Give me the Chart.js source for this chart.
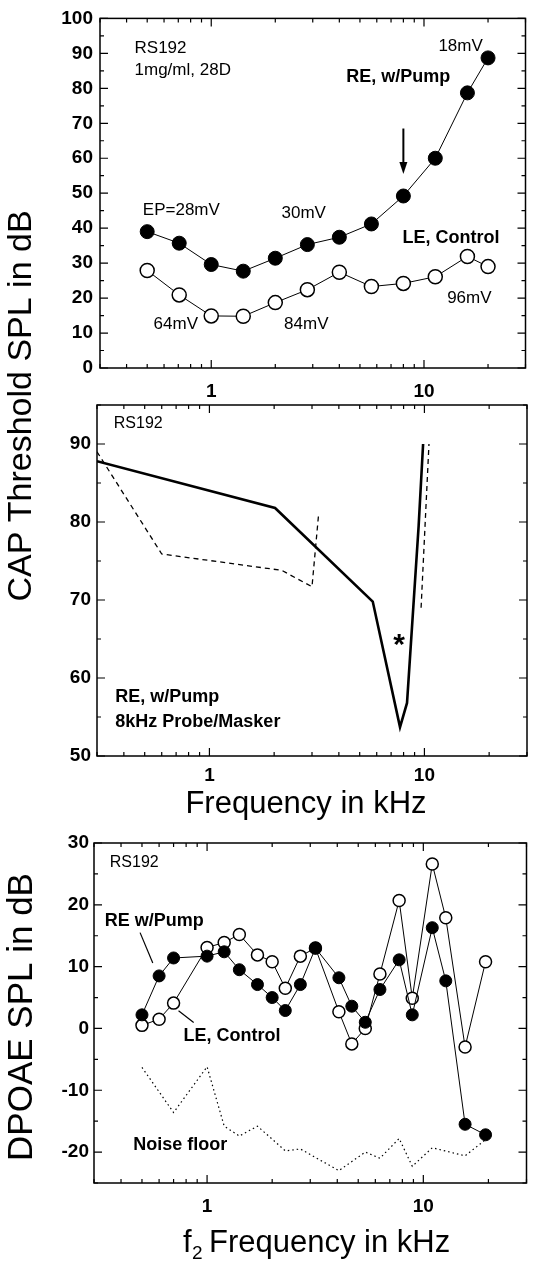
<!DOCTYPE html>
<html>
<head>
<meta charset="utf-8">
<script src="https://cdn.jsdelivr.net/npm/chart.js@4.4.1/dist/chart.umd.min.js"></script>
<style>
  html, body { margin: 0; padding: 0; background: #fff; }
  #wrap { position: relative; width: 534px; height: 1261px; }
  #wrap canvas { position: absolute; left: 0; top: 0; }
</style>
</head>
<body>
<div id="wrap">
  <canvas id="capChart" width="534" height="1261"></canvas>
  <canvas id="tuningChart" width="534" height="1261"></canvas>
  <canvas id="dpoaeChart" width="534" height="1261"></canvas>
</div>
<script>
// top panel: CAP thresholds (dB SPL) per probe frequency (kHz)
const capFreq = [0.5, 0.707, 1, 1.414, 2, 2.83, 4, 5.66, 8, 11.3, 16, 20];
const capPump = [39, 35.7, 29.6, 27.7, 31.4, 35.3, 37.4, 41.2, 49.2, 60, 78.7, 88.7];
const capControl = [27.9, 20.9, 14.9, 14.8, 18.7, 22.4, 27.4, 23.3, 24.2, 26.1, 31.9, 29];

// middle panel: masking tuning curves, 8 kHz probe
const tuneFreq = [0.3, 2.02, 5.75, 7.7, 8.3, 9.4, 9.86];
const tuneLevel = [87.8, 81.8, 69.8, 53.7, 56.8, 79.5, 90];
const dashLowFreq = [0.3, 0.6, 2.17, 3.0, 3.22];
const dashLowLevel = [89, 75.9, 73.8, 71.7, 81];
const dashHighFreq = [9.65, 10.5];
const dashHighLevel = [69, 90];

// bottom panel: DPOAE levels
const dpFreq = [0.5, 0.6, 0.7, 1.0, 1.2, 1.41, 1.71, 2.0, 2.3, 2.7, 3.17, 4.07, 4.67, 5.39, 6.3, 7.73, 8.89, 11.0, 12.7, 15.6, 19.4];
const dpPump = [2.2, 8.5, 11.4, 11.7, 12.4, 9.5, 7.1, 5.0, 2.9, 7.1, 13.0, 8.2, 3.6, 1.0, 6.3, 11.1, 2.2, 16.3, 7.7, -15.5, -17.2];
const dpControl = [0.5, 1.5, 4.1, 13.1, 13.9, 15.2, 11.9, 10.8, 6.5, 11.7, 13.0, 2.7, -2.5, 0.0, 8.8, 20.7, 4.9, 26.6, 17.9, -3.0, 10.8];
const noiseFreq = [0.5, 0.7, 1.0, 1.2, 1.41, 1.71, 2.3, 2.7, 4.07, 5.39, 6.3, 7.73, 8.89, 11.0, 15.6, 19.4];
const noiseLevel = [-6.3, -13.6, -6.2, -15.8, -17.4, -15.8, -19.8, -19.5, -23, -20, -21, -17.8, -22.3, -19.3, -20.6, -18];

const xLabels = [1, 10];

Chart.defaults.font.family = '"Liberation Sans", Arial, sans-serif';
Chart.defaults.color = '#000';
Chart.defaults.animation = false;

function pts(xs, ys) {
    return xs.map((v, i) => ({ x: v, y: ys[i] }));
}

// minor/major tick values of the log frequency axis
const xTickVals = [];
[0.1, 1, 10].forEach(d => {
    for (let m = 1; m <= 9; m++) {
        const v = +(m * d).toFixed(2);
        if (v >= 0.3 && v <= 30) xTickVals.push(v);
    }
});

function range(a, b, step) {
    const out = [];
    for (let v = a; v <= b + 1e-9; v += step) out.push(v);
    return out;
}

// frame with inward ticks on all four sides
function framePlugin(yMajor, yMinor) {
    return {
        id: 'frame',
        afterDraw(chart) {
            const { ctx, chartArea: a, scales: { x, y } } = chart;
            ctx.save();
            ctx.strokeStyle = '#000';
            ctx.lineWidth = 1.5;
            ctx.strokeRect(a.left, a.top, a.right - a.left, a.bottom - a.top);
            ctx.lineWidth = 1.2;
            ctx.beginPath();
            xTickVals.forEach(v => {
                const px = x.getPixelForValue(v);
                const len = xLabels.includes(v) ? 8 : 4;
                ctx.moveTo(px, a.bottom); ctx.lineTo(px, a.bottom - len);
                ctx.moveTo(px, a.top); ctx.lineTo(px, a.top + len);
            });
            yMinor.forEach(v => {
                const py = y.getPixelForValue(v);
                const len = yMajor.includes(v) ? 8 : 4;
                ctx.moveTo(a.left, py); ctx.lineTo(a.left + len, py);
                ctx.moveTo(a.right, py); ctx.lineTo(a.right - len, py);
            });
            ctx.stroke();
            ctx.restore();
        }
    };
}

// text, pointer lines and titles
function notesPlugin(items) {
    return {
        id: 'notes',
        afterDraw(chart) {
            const { ctx, scales: { x, y } } = chart;
            ctx.save();
            ctx.fillStyle = '#000';
            ctx.strokeStyle = '#000';
            items.forEach(n => {
                if (n.line) {
                    ctx.lineWidth = n.width || 1.2;
                    ctx.beginPath();
                    ctx.moveTo(x.getPixelForValue(n.line[0]), y.getPixelForValue(n.line[1]));
                    ctx.lineTo(x.getPixelForValue(n.line[2]), y.getPixelForValue(n.line[3]));
                    ctx.stroke();
                    return;
                }
                if (n.arrow) {
                    const px = x.getPixelForValue(n.arrow[0]);
                    const y1 = y.getPixelForValue(n.arrow[1]);
                    const y2 = y.getPixelForValue(n.arrow[2]);
                    ctx.lineWidth = 2;
                    ctx.beginPath();
                    ctx.moveTo(px, y1); ctx.lineTo(px, y2 - 8);
                    ctx.stroke();
                    ctx.beginPath();
                    ctx.moveTo(px - 4, y2 - 12); ctx.lineTo(px + 4, y2 - 12); ctx.lineTo(px, y2);
                    ctx.closePath();
                    ctx.fill();
                    return;
                }
                ctx.font = n.font;
                ctx.textAlign = n.align || 'left';
                ctx.textBaseline = 'middle';
                const px = n.px !== undefined ? n.px : x.getPixelForValue(n.x);
                const py = n.py !== undefined ? n.py : y.getPixelForValue(n.y);
                if (n.rotate) {
                    ctx.save();
                    ctx.translate(px, py);
                    ctx.rotate(-Math.PI / 2);
                    ctx.fillText(n.text, 0, 0);
                    ctx.restore();
                } else {
                    ctx.fillText(n.text, px, py);
                }
            });
            ctx.restore();
        }
    };
}

const noteBig = '17px "Liberation Sans", Arial, sans-serif';
const note = '16px "Liberation Sans", Arial, sans-serif';
const noteBold = 'bold 18px "Liberation Sans", Arial, sans-serif';
const title = '31px "Liberation Sans", Arial, sans-serif';
const AXIS_H = 40;

// axis boxes are sized so the plot area lands where the layout padding puts it
function scalesFor(left, yMin, yMax, yLabelVals, xPad, yPad) {
    return {
        x: {
            type: 'logarithmic', min: 0.3, max: 30,
            grid: { display: false, drawTicks: false }, border: { display: false },
            ticks: { font: { size: 19, weight: 'bold' }, padding: xPad, maxRotation: 0, autoSkip: false, callback: v => String(v) },
            afterBuildTicks: s => { s.ticks = xLabels.map(v => ({ value: v })); },
            afterFit: s => { s.height = AXIS_H; }
        },
        y: {
            min: yMin, max: yMax,
            grid: { display: false, drawTicks: false }, border: { display: false },
            ticks: { font: { size: 19, weight: 'bold' }, padding: yPad, autoSkip: false },
            afterBuildTicks: s => { s.ticks = yLabelVals.map(v => ({ value: v })); },
            afterFit: s => { s.width = left; }
        }
    };
}

function box(r, t, b) {
    return { padding: { left: 0, right: 534 - r, top: t, bottom: 1261 - b - AXIS_H } };
}

const filled = { borderColor: '#000', borderWidth: 1, pointRadius: 7, pointBorderWidth: 1, pointBackgroundColor: '#000', pointBorderColor: '#000', tension: 0, order: 0 };
const hollow = { borderColor: '#000', borderWidth: 1, pointRadius: 7, pointBorderWidth: 1.5, pointBackgroundColor: '#fff', pointBorderColor: '#000', tension: 0, order: 1 };

// --- top panel
new Chart(document.getElementById('capChart'), {
    type: 'line',
    data: {
        datasets: [
            Object.assign({ label: 'RE, w/Pump', data: pts(capFreq, capPump) }, filled),
            Object.assign({ label: 'LE, Control', data: pts(capFreq, capControl) }, hollow)
        ]
    },
    options: {
        responsive: false,
        devicePixelRatio: 1,
        layout: box(529, 18, 368),
        scales: scalesFor(100, 0, 100, range(0, 100, 10), 12, 7),
        plugins: { legend: { display: false }, tooltip: { enabled: false } }
    },
    plugins: [framePlugin(range(0, 100, 10), range(0, 100, 5)), notesPlugin([
        { text: 'RS192', x: 0.436, y: 91.4, font: noteBig },
        { text: '1mg/ml, 28D', x: 0.436, y: 85.2, font: noteBig },
        { text: 'RE, w/Pump', x: 4.31, y: 83.3, font: noteBold },
        { text: '18mV', x: 18.9, y: 91.9, font: noteBig, align: 'right' },
        { text: 'EP=28mV', x: 0.477, y: 45.2, font: noteBig },
        { text: '30mV', x: 2.14, y: 44.3, font: noteBig },
        { text: 'LE, Control', x: 7.92, y: 37.1, font: noteBold },
        { text: '64mV', x: 0.536, y: 12.4, font: noteBig },
        { text: '84mV', x: 2.2, y: 12.4, font: noteBig },
        { text: '96mV', x: 12.85, y: 20, font: noteBig },
        { arrow: [8, 68.5, 55.5] }
    ])]
});

// --- middle panel
new Chart(document.getElementById('tuningChart'), {
    type: 'line',
    data: {
        datasets: [
            { label: 'tuning', data: pts(tuneFreq, tuneLevel), borderColor: '#000', borderWidth: 2.6, pointRadius: 0, tension: 0 },
            { label: 'dashed low', data: pts(dashLowFreq, dashLowLevel), borderColor: '#000', borderWidth: 1.3, borderDash: [5, 4], pointRadius: 0, tension: 0 },
            { label: 'dashed high', data: pts(dashHighFreq, dashHighLevel), borderColor: '#000', borderWidth: 1.3, borderDash: [5, 4], pointRadius: 0, tension: 0 }
        ]
    },
    options: {
        responsive: false,
        devicePixelRatio: 1,
        layout: box(527, 405, 756),
        scales: scalesFor(97, 50, 95, range(50, 90, 10), 8, 6),
        plugins: { legend: { display: false }, tooltip: { enabled: false } }
    },
    plugins: [framePlugin(range(50, 90, 10), range(50, 95, 5)), notesPlugin([
        { text: 'RS192', x: 0.359, y: 92.6, font: note },
        { text: 'RE, w/Pump', x: 0.365, y: 57.6, font: noteBold },
        { text: '8kHz Probe/Masker', x: 0.365, y: 54.4, font: noteBold },
        { text: '*', x: 7.63, y: 64.2, font: 'bold 30px "Liberation Sans", Arial, sans-serif', align: 'center' },
        { text: 'CAP Threshold SPL in dB', px: 22, py: 406, font: '34px "Liberation Sans", Arial, sans-serif', align: 'center', rotate: true },
        { text: 'Frequency in kHz', px: 306, py: 804, font: title, align: 'center' }
    ])]
});

// --- bottom panel
new Chart(document.getElementById('dpoaeChart'), {
    type: 'line',
    data: {
        datasets: [
            Object.assign({ label: 'RE w/Pump', data: pts(dpFreq, dpPump) }, filled, { pointRadius: 6 }),
            Object.assign({ label: 'LE, Control', data: pts(dpFreq, dpControl) }, hollow, { pointRadius: 6 }),
            { label: 'Noise floor', data: pts(noiseFreq, noiseLevel), borderColor: '#000', borderWidth: 1.2, borderDash: [1.5, 3], pointRadius: 0, tension: 0, order: 2 }
        ]
    },
    options: {
        responsive: false,
        devicePixelRatio: 1,
        layout: box(528, 843, 1183),
        scales: scalesFor(94, -25, 30, range(-20, 30, 10), 12, 5),
        plugins: { legend: { display: false }, tooltip: { enabled: false } }
    },
    plugins: [framePlugin(range(-20, 30, 10), range(-25, 30, 5)), notesPlugin([
        { text: 'RS192', x: 0.355, y: 26.8, font: note },
        { text: 'RE w/Pump', x: 0.336, y: 17.4, font: noteBold },
        { line: [0.49, 15.5, 0.561, 10.6] },
        { text: 'LE, Control', x: 0.779, y: -1.3, font: noteBold },
        { line: [0.738, 2.85, 0.867, 0.97] },
        { text: 'Noise floor', x: 0.456, y: -18.9, font: noteBold },
        { text: 'DPOAE SPL in dB', px: 22, py: 1017, font: '35px "Liberation Sans", Arial, sans-serif', align: 'center', rotate: true },
        { text: 'f', px: 183, py: 1243, font: title },
        { text: '2', px: 192, py: 1254, font: '19px "Liberation Sans", Arial, sans-serif' },
        { text: 'Frequency in kHz', px: 209, py: 1243, font: title }
    ])]
});
</script>
</body>
</html>
